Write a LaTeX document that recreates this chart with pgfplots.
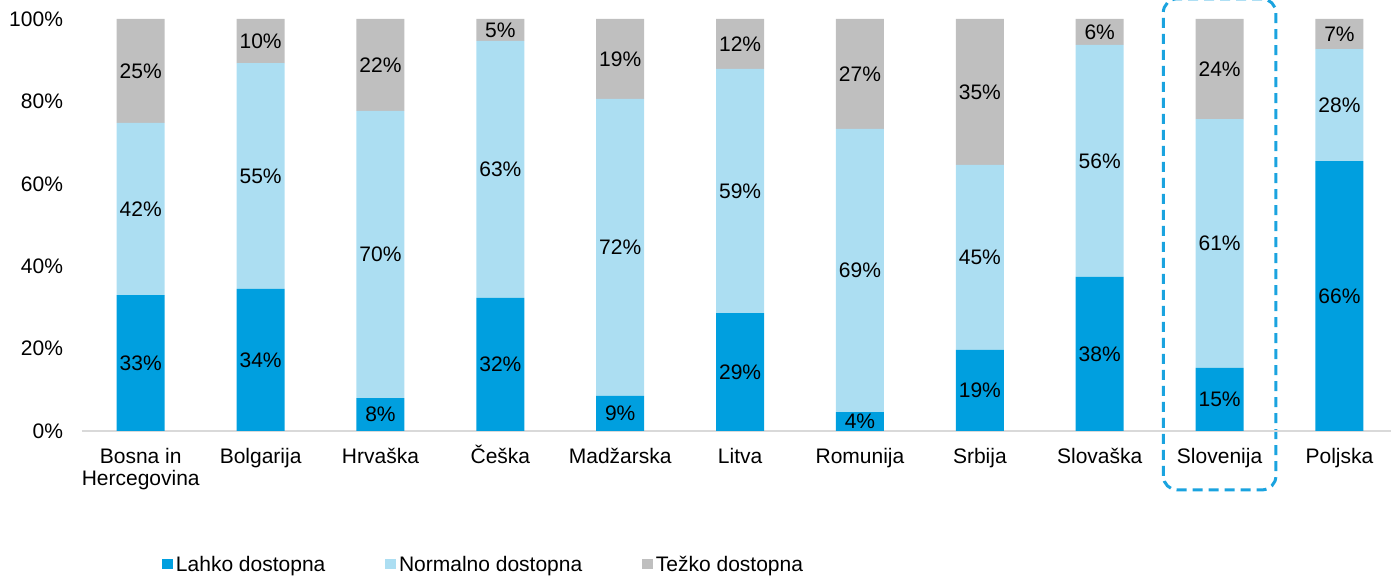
\documentclass[border=0pt]{standalone}
\usepackage{fontspec}
\setmainfont{Liberation Sans}
\usepackage{pgfplots}
\usepackage{pgfplotstable}
\pgfplotsset{compat=1.18}
\definecolor{cdark}{HTML}{009FDF}
\definecolor{clight}{HTML}{ACDEF2}
\definecolor{cgray}{HTML}{BFBFBF}
\definecolor{cbox}{HTML}{1AA3DF}
\definecolor{caxis}{HTML}{D9D9D9}
\pgfplotstableread{
x a b c la lb lc
0 33.0 41.8 25.2 33 42 25
1 34.5 54.8 10.7 34 55 10
2 8.0 69.7 22.3 8 70 22
3 32.3 62.4 5.3 32 63 5
4 8.5 72.1 19.4 9 72 19
5 28.6 59.3 12.1 29 59 12
6 4.6 68.7 26.7 4 69 27
7 19.7 44.9 35.4 19 45 35
8 37.4 56.3 6.3 38 56 6
9 15.3 60.4 24.3 15 61 24
10 65.5 27.2 7.3 66 28 7
}\datatable
\begin{document}
\begin{tikzpicture}[font=\fontsize{10.5}{11}\selectfont]
\useasboundingbox (-41pt,-72.5pt) rectangle (654.5pt,215.5pt);
\begin{axis}[
  at={(0,0)}, anchor=south west,
  scale only axis, width=654.5pt, height=206pt,
  xmin=-0.49, xmax=10.43, ymin=0, ymax=100,
  ybar stacked, bar width=24pt,
  clip=false,
  axis line style={draw=none},
  major tick length=0pt,
  tick style={draw=none},
  xtick={0,...,10},
  xticklabels={{Bosna in\\Hercegovina},Bolgarija,Hrvaška,\raisebox{0pt}[7.65pt][0pt]{Češka},Madžarska,Litva,Romunija,Srbija,Slovaška,Slovenija,Poljska},
  xticklabel style={align=center, yshift=-5pt},
  ytick={0,20,40,60,80,100},
  yticklabels={0\%,20\%,40\%,60\%,80\%,100\%},
  yticklabel style={xshift=-6pt},
  nodes near coords={\pgfplotspointmeta\%},
  point meta=explicit symbolic,
  every node near coord/.append style={anchor=center, text=black},
  legend columns=3,
  legend style={at={(0.0611,-0.325)}, anchor=west, draw=none, fill=none, inner sep=0pt,
    /tikz/every even column/.append style={column sep=28.5pt},
    nodes={inner xsep=1.5pt}},
  legend cell align=left,
  sqleg/.style={legend image code/.code={\fill[##1] (0pt,-2.3pt) rectangle (5.3pt,3pt);}},
]
\addplot[fill=cdark, draw=none, sqleg] table[x=x, y=a, meta=la] {\datatable};
\addlegendentry{Lahko dostopna}
\addplot[fill=clight, draw=none, sqleg] table[x=x, y=b, meta=lb] {\datatable};
\addlegendentry{Normalno dostopna}
\addplot[fill=cgray, draw=none, sqleg] table[x=x, y=c, meta=lc] {\datatable};
\addlegendentry{Težko dostopna}
\draw[color=caxis, line width=1pt] (rel axis cs:0,0) -- (rel axis cs:1,0);
\draw[color=cbox, line width=1.5pt, dash pattern=on 5pt off 3pt, rounded corners=7pt] (axis cs:8.53,-14.3) rectangle (axis cs:9.47,104.9);
\end{axis}
\end{tikzpicture}
\end{document}
